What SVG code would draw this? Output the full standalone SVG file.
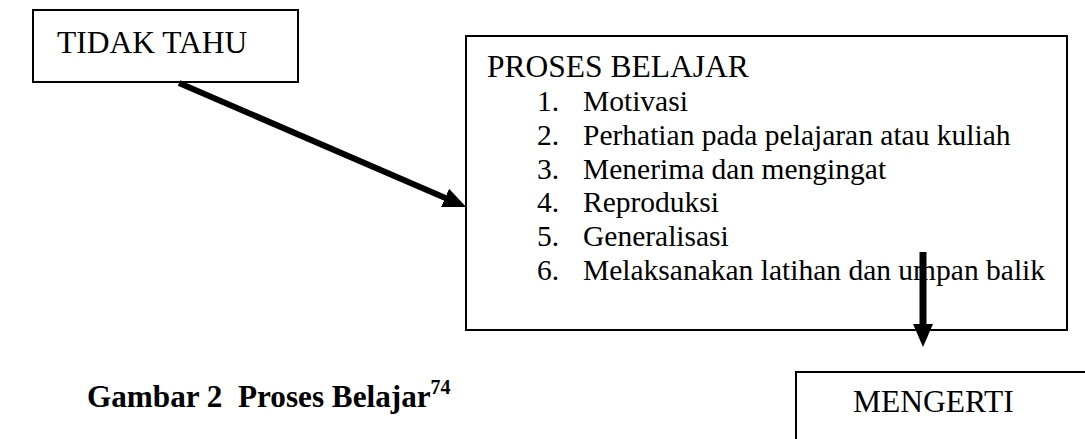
<svg xmlns="http://www.w3.org/2000/svg" width="1085" height="439" viewBox="0 0 1085 439">
  <style>
    .box { fill: #ffffff; stroke: #000000; stroke-width: 2; }
    .t { font-family: "Liberation Serif", "Times New Roman", Times, serif; fill: #000000; }
    .title { font-size: 31.5px; }
    .item { font-size: 29.5px; }
    .cap { font-size: 31.2px; font-weight: bold; white-space: pre; }
    .sup { font-size: 20px; font-weight: bold; }
    .conn { fill: none; stroke: #000000; }
  </style>
  <defs>
    <marker id="ah" markerUnits="userSpaceOnUse" markerWidth="23" markerHeight="20" refX="1" refY="10" orient="auto" viewBox="0 0 23 20">
      <path d="M0,0 L23,10 L0,20 Z" fill="#000000"/>
    </marker>
  </defs>
  <rect width="1085" height="439" fill="#ffffff"/>

  <g id="node-tidak-tahu">
    <rect class="box" x="33" y="10" width="265" height="72"/>
    <text class="t title" x="57" y="53">TIDAK TAHU</text>
  </g>

  <g id="node-proses-belajar">
    <rect class="box" x="466" y="36" width="601" height="294"/>
    <text class="t title" x="487" y="77">PROSES BELAJAR</text>
    <text class="t item" x="537" y="111">1.</text>
    <text class="t item" x="583" y="111">Motivasi</text>
    <text class="t item" x="537" y="144.8">2.</text>
    <text class="t item" x="583" y="144.8">Perhatian pada pelajaran atau kuliah</text>
    <text class="t item" x="537" y="178.6">3.</text>
    <text class="t item" x="583" y="178.6">Menerima dan mengingat</text>
    <text class="t item" x="537" y="212.4">4.</text>
    <text class="t item" x="583" y="212.4">Reproduksi</text>
    <text class="t item" x="537" y="246.2">5.</text>
    <text class="t item" x="583" y="246.2">Generalisasi</text>
    <text class="t item" x="537" y="280">6.</text>
    <text class="t item" x="583" y="280">Melaksanakan latihan dan umpan balik</text>
  </g>

  <g id="node-mengerti">
    <rect class="box" x="796" y="372" width="300" height="80"/>
    <text class="t title" x="853" y="412">MENGERTI</text>
  </g>

  <g id="connectors">
    <path class="conn" d="M179,83 L446,198.3" stroke-width="6" marker-end="url(#ah)"/>
    <path class="conn" d="M923,252 L923,325" stroke-width="7" marker-end="url(#ah)"/>
  </g>

  <g id="caption">
    <text class="t cap" x="87" y="407" xml:space="preserve">Gambar 2  Proses Belajar<tspan class="sup" dy="-13">74</tspan></text>
  </g>
</svg>
